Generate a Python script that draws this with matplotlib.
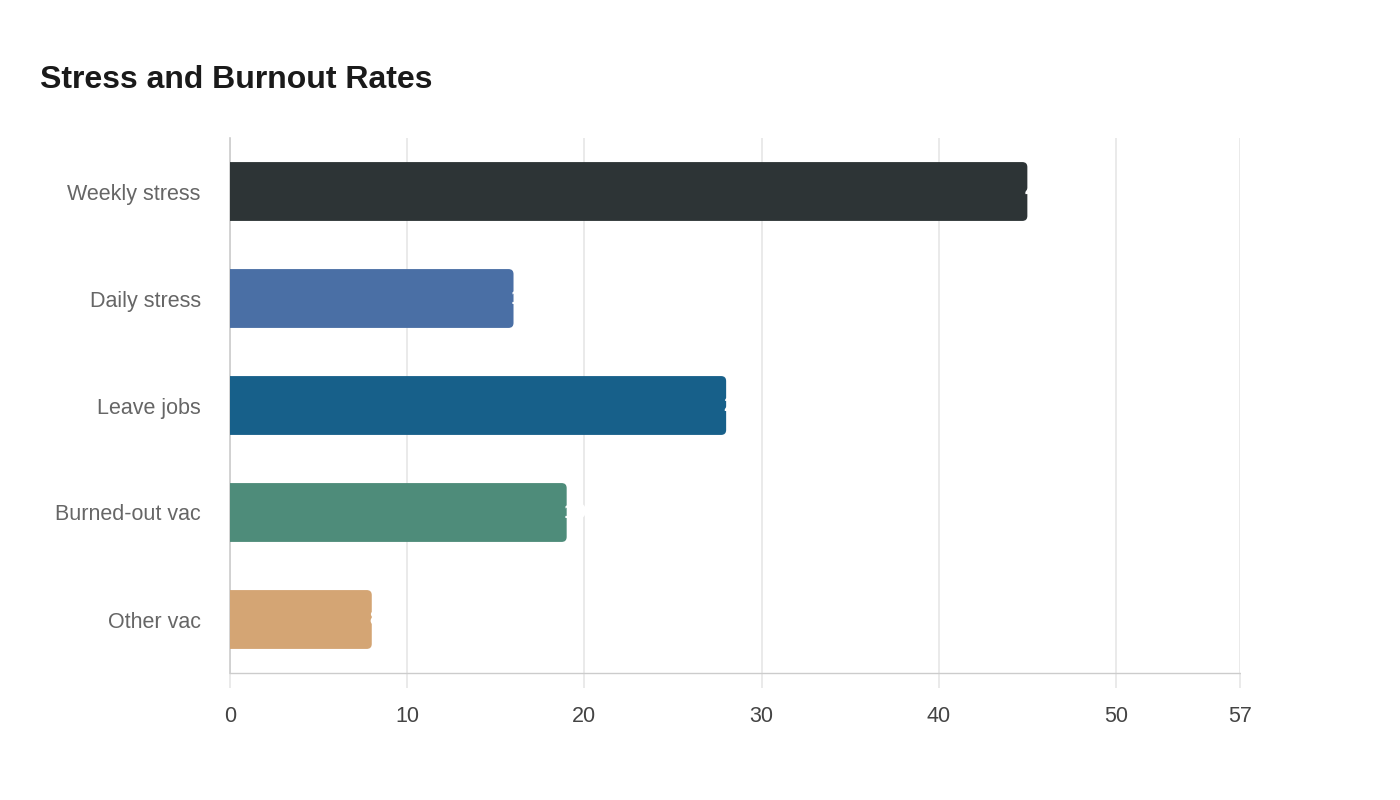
import matplotlib.pyplot as plt
from matplotlib.patches import FancyBboxPatch

plt.rcParams['font.family'] = ['Liberation Sans', 'DejaVu Sans']

categories = ["Weekly stress", "Daily stress", "Leave jobs", "Burned-out vac", "Other vac"]
values = [45, 16, 28, 19, 8]
colors = ["#2d3436", "#4a6fa5", "#17608a", "#4e8c7a", "#d4a574"]
xticks = [0, 10, 20, 30, 40, 50, 57]

fig = plt.figure(figsize=(14, 8), dpi=100)
ax = fig.add_axes([0.1643, 0.15875, 0.7214, 0.66875])

xmax = 57
y = list(range(len(categories)))
bars = ax.barh(y, values, height=0.55, color=colors, linewidth=0, zorder=3)

# rounded right corners: swap each bar for a rounded box of the same size
ax_w_px = 0.7214 * 1400
ax_h_px = 0.66875 * 800
px_x = xmax / ax_w_px
px_y = len(categories) / ax_h_px
for b, c in zip(bars, colors):
    b.set_visible(False)
    r = 5 * px_x
    p = FancyBboxPatch((b.get_x() - r, b.get_y()), b.get_width() + r, b.get_height(),
                       boxstyle=f"round,pad=0,rounding_size={r}",
                       mutation_aspect=px_y / px_x, facecolor=c, edgecolor='none',
                       zorder=3, clip_on=True)
    ax.add_patch(p)

for yi, v in zip(y, values):
    ax.annotate(str(v), xy=(v, yi), xytext=(-2, 0), textcoords='offset points',
                ha='left', va='center', color='white', fontsize=15,
                fontweight='bold', zorder=4)

ax.set_xlim(0, xmax)
ax.set_ylim(len(categories) - 0.5, -0.5)
ax.set_yticks(y)
ax.set_yticklabels(categories, fontsize=15.5, color='#666666')
ax.set_xticks(xticks)
ax.set_xticklabels([str(t) for t in xticks], fontsize=15.5, color='#444444')

ax.grid(axis='x', color='#e6e6e6', linewidth=1.2, zorder=0)
ax.tick_params(axis='y', length=0, pad=21)
ax.tick_params(axis='x', length=11, color='#e6e6e6', width=1.2, pad=13)

for s in ['top', 'right']:
    ax.spines[s].set_visible(False)
ax.spines['left'].set_color('#cccccc')
ax.spines['left'].set_linewidth(1.2)
ax.spines['bottom'].set_color('#cccccc')
ax.spines['bottom'].set_linewidth(1.0)
ax.spines['bottom'].set_linestyle((0, (1, 1)))

fig.text(40 / 1400, 1 - 80 / 800, "Stress and Burnout Rates", fontsize=23,
         fontweight='bold', color='#1a1a1a', ha='left', va='center')

fig.savefig("out.png", dpi=100)
